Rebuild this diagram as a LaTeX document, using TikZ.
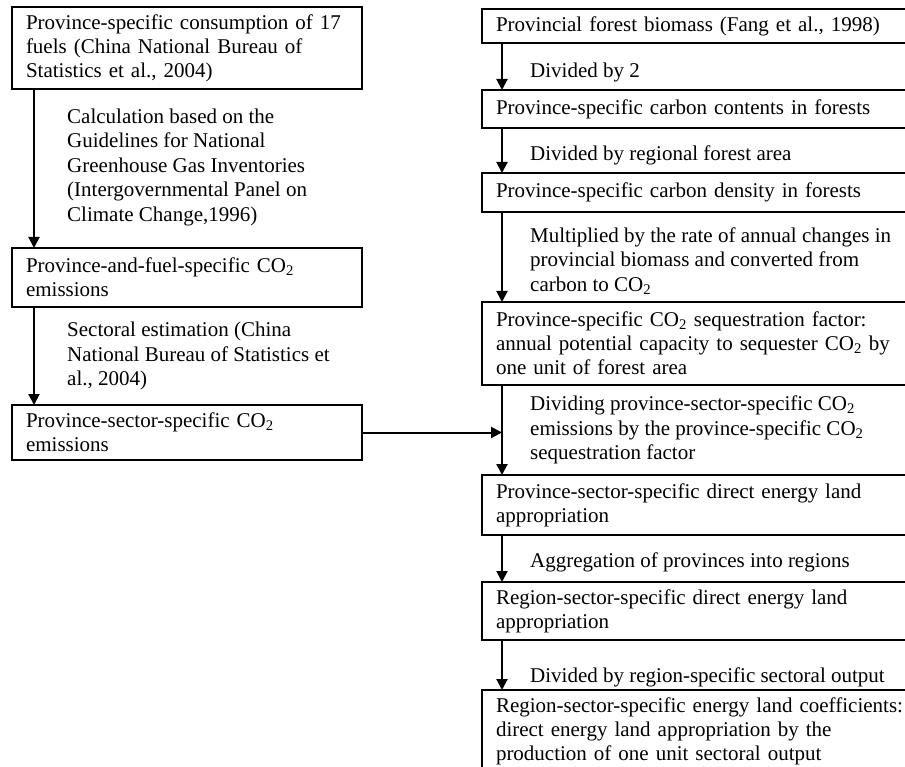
\documentclass[tikz,border=0pt]{standalone}
\usepackage{fontspec}
\setmainfont{Liberation Serif}
\usetikzlibrary{arrows.meta}
\newcommand\COtwo{CO\textsubscript{2}}
\begin{document}
\begin{tikzpicture}[x=1pt,y=-1pt,
  box/.style={draw, line width=2pt, anchor=north west, inner xsep=14pt, inner ysep=2pt, align=left, font=\fontsize{21}{24}\selectfont, outer sep=0pt},
  lbox/.style={box, text width=322pt},
  rbox/.style={box, text width=460pt},
  lab/.style={anchor=west, align=left, inner sep=0pt, font=\fontsize{21}{24.5}\selectfont},
  arr/.style={line width=2pt, -{Triangle[length=11pt,width=11pt]}}]
\useasboundingbox (0,0) rectangle (905,767);
\clip (0,0) rectangle (905,767);
% left column
\node[lbox, minimum height=82pt] (L1) at (12,7) {Province-specific consumption of 17\\fuels (China National Bureau of\\Statistics et al., 2004)};
\node[lbox, minimum height=59pt] (L2) at (12,248) {Province-and-fuel-specific \COtwo\\emissions};
\node[lbox, minimum height=55pt] (L3) at (12,405) {Province-sector-specific \COtwo\\emissions};
\node[lab] (t1) at (67,167) {Calculation based on the\\Guidelines for National\\Greenhouse Gas Inventories\\(Intergovernmental Panel on\\Climate Change,1996)};
\node[lab] (t2) at (67,356) {Sectoral estimation (China\\National Bureau of Statistics et\\al., 2004)};
% right column
\node[rbox, minimum height=34pt] (R1) at (482,9) {Provincial forest biomass (Fang et al., 1998)};
\node[rbox, minimum height=38pt] (R2) at (482,90) {Province-specific carbon contents in forests};
\node[rbox, minimum height=39pt] (R3) at (482,173) {Province-specific carbon density in forests};
\node[rbox, minimum height=83pt] (R4) at (482,302) {Province-specific \COtwo\ sequestration factor:\\annual potential capacity to sequester \COtwo\ by\\one unit of forest area};
\node[rbox, minimum height=60pt] (R5) at (482,475) {Province-sector-specific direct energy land\\appropriation};
\node[rbox, minimum height=58pt] (R6) at (482,582) {Region-sector-specific direct energy land\\appropriation};
\node[rbox, minimum height=83pt] (R7) at (482,690) {Region-sector-specific energy land coefficients:\\direct energy land appropriation by the\\production of one unit sectoral output};
\node[lab] (t3) at (530,72) {Divided by 2};
\node[lab] (t4) at (530,155) {Divided by regional forest area};
\node[lab] (t5) at (530,261) {Multiplied by the rate of annual changes in\\provincial biomass and converted from\\carbon to \COtwo};
\node[lab] (t6) at (530,430) {Dividing province-sector-specific \COtwo\\emissions by the province-specific \COtwo\\sequestration factor};
\node[lab] (t7) at (530,562) {Aggregation of provinces into regions};
\node[lab] (t8) at (530,677) {Divided by region-specific sectoral output};
% arrows
\draw[arr] ([xshift=22pt]L1.south west) -- ([xshift=22pt]L2.north west);
\draw[arr] ([xshift=22pt]L2.south west) -- ([xshift=22pt]L3.north west);
\draw[arr] ([xshift=20pt]R1.south west) -- ([xshift=20pt]R2.north west);
\draw[arr] ([xshift=20pt]R2.south west) -- ([xshift=20pt]R3.north west);
\draw[arr] ([xshift=20pt]R3.south west) -- ([xshift=20pt]R4.north west);
\draw[arr] ([xshift=20pt]R4.south west) -- ([xshift=20pt]R5.north west);
\draw[arr] ([xshift=20pt]R5.south west) -- ([xshift=20pt]R6.north west);
\draw[arr] ([xshift=20pt]R6.south west) -- ([xshift=20pt]R7.north west);
\coordinate (J) at ([xshift=20pt]R4.south west |- L3.east);
\draw[arr] (L3.east) -- (J);
\end{tikzpicture}
\end{document}
